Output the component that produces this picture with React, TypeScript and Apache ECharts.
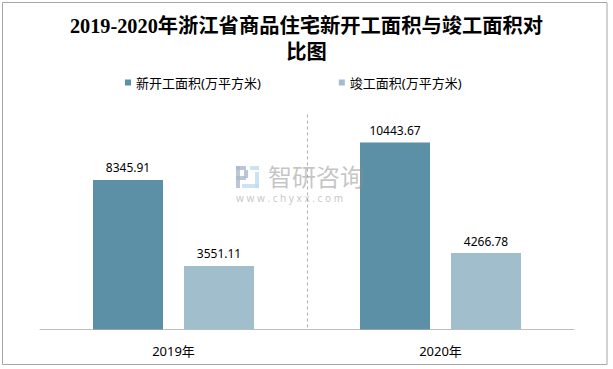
import React, { useEffect, useRef } from "react";
import * as echarts from "echarts";

const categories = ["2019年", "2020年"];
const newStartValues = [8345.91, 10443.67];
const completedValues = [3551.11, 4266.78];
const seriesNames = ["新开工面积(万平方米)", "竣工面积(万平方米)"];
const titleText = "2019-2020年浙江省商品住宅新开工面积与竣工面积对\n比图";
const yMax = 12000;

export default function App() {
  const ref = useRef<HTMLDivElement>(null);
  useEffect(() => {
    if (!ref.current) return;
    const chart = echarts.init(ref.current, undefined, { renderer: "svg" });
    const labelFont = "'Noto Sans', 'Noto Sans CJK SC', sans-serif";
    const wmColor = "rgba(140,140,140,0.5)";
    const watermark: any[] = [
      {
        type: "group",
        left: 236,
        top: 166,
        silent: true,
        z: 100,
        children: [
          { type: "rect", shape: { x: 0, y: 0, width: 10, height: 4 }, style: { fill: "rgba(170,185,205,0.8)" } },
          { type: "rect", shape: { x: 0, y: 0, width: 4, height: 22 }, style: { fill: "rgba(170,185,205,0.8)" } },
          { type: "rect", shape: { x: 8, y: 4, width: 4, height: 8 }, style: { fill: "rgba(170,185,205,0.8)" } },
          { type: "rect", shape: { x: 0, y: 10, width: 10, height: 4 }, style: { fill: "rgba(170,185,205,0.8)" } },
          { type: "rect", shape: { x: 14, y: 0, width: 9, height: 4 }, style: { fill: "rgba(190,220,240,0.8)" } },
          { type: "rect", shape: { x: 19, y: 6, width: 4, height: 16 }, style: { fill: "rgba(190,220,240,0.8)" } },
          { type: "rect", shape: { x: 6, y: 18, width: 17, height: 4 }, style: { fill: "rgba(190,220,240,0.8)" } },
        ],
      },
      {
        type: "text",
        left: 268,
        top: 163,
        silent: true,
        z: 100,
        style: {
          text: "智研咨询",
          fontFamily: "'Noto Sans CJK SC', sans-serif",
          fontSize: 24,
          lineHeight: 24,
          fill: wmColor,
        },
      },
      {
        type: "text",
        left: 236,
        top: 193,
        silent: true,
        z: 100,
        style: {
          text: "w w w . c h y x x . c o m",
          fontFamily: "'Noto Sans', sans-serif",
          fontSize: 10,
          lineHeight: 10,
          fill: wmColor,
        },
      },
    ];
    const border = {
      type: "rect",
      shape: { x: 2.5, y: 2.5, width: 604.5, height: 362 },
      style: { fill: "none", stroke: "#a6a6a6", lineWidth: 1 },
      silent: true,
    };
    chart.setOption({
      animation: false,
      backgroundColor: "#ffffff",
      title: {
        text: titleText,
        left: "center",
        top: 8,
        textStyle: {
          fontFamily: "'Liberation Serif', 'Noto Sans CJK SC', serif",
          fontWeight: "bold",
          fontSize: 20.3,
          lineHeight: 26,
          color: "#000000",
        },
      },
      legend: {
        left: 120,
        top: 71,
        itemWidth: 6,
        itemHeight: 6,
        itemGap: 78,
        icon: "rect",
        textStyle: { fontFamily: labelFont, fontSize: 13, color: "#000000" },
        data: seriesNames,
      },
      grid: { left: 40, right: 39, top: 114.5, bottom: 39.5 },
      xAxis: {
        type: "category",
        data: categories,
        axisLine: { lineStyle: { color: "#bfbfbf", width: 1 } },
        axisTick: { show: false },
        axisLabel: { fontFamily: labelFont, fontSize: 13, color: "#000000", margin: 15 },
        splitLine: { show: false },
      },
      yAxis: {
        type: "value",
        min: 0,
        max: yMax,
        show: false,
        splitLine: { show: false },
      },
      graphic: [border, ...watermark],
      series: [
        {
          name: seriesNames[0],
          type: "bar",
          data: newStartValues,
          barWidth: 70,
          barGap: "30%",
          itemStyle: { color: "#5b90a6" },
          label: {
            show: true,
            position: "top",
            distance: 6,
            fontFamily: labelFont,
            fontSize: 12,
            color: "#000000",
          },
        },
        {
          name: seriesNames[1],
          type: "bar",
          data: completedValues,
          barWidth: 70,
          barGap: "30%",
          itemStyle: { color: "#a0becb" },
          label: {
            show: true,
            position: "top",
            distance: 6,
            fontFamily: labelFont,
            fontSize: 12,
            color: "#000000",
          },
        },
      ],
    });
    // separator between the two categories, placed through the axes' scales
    const x0 = chart.convertToPixel({ xAxisIndex: 0 }, categories[0]) as number;
    const x1 = chart.convertToPixel({ xAxisIndex: 0 }, categories[1]) as number;
    const yTop = chart.convertToPixel({ yAxisIndex: 0 }, yMax) as number;
    const yBottom = chart.convertToPixel({ yAxisIndex: 0 }, 0) as number;
    const xm = Math.round((x0 + x1) / 2) + 0.5;
    chart.setOption({
      graphic: [
        border,
        {
          type: "line",
          silent: true,
          z: 1,
          shape: { x1: xm, y1: yTop, x2: xm, y2: yBottom },
          style: { stroke: "#b0b0b0", lineWidth: 1, lineDash: [3, 3] },
        },
        ...watermark,
      ],
    }, { replaceMerge: ["graphic"] });
    return () => chart.dispose();
  }, []);
  return (
    <div
      ref={ref}
      style={{ position: "fixed", left: 0, top: 0, width: 613, height: 369 }}
    />
  );
}
